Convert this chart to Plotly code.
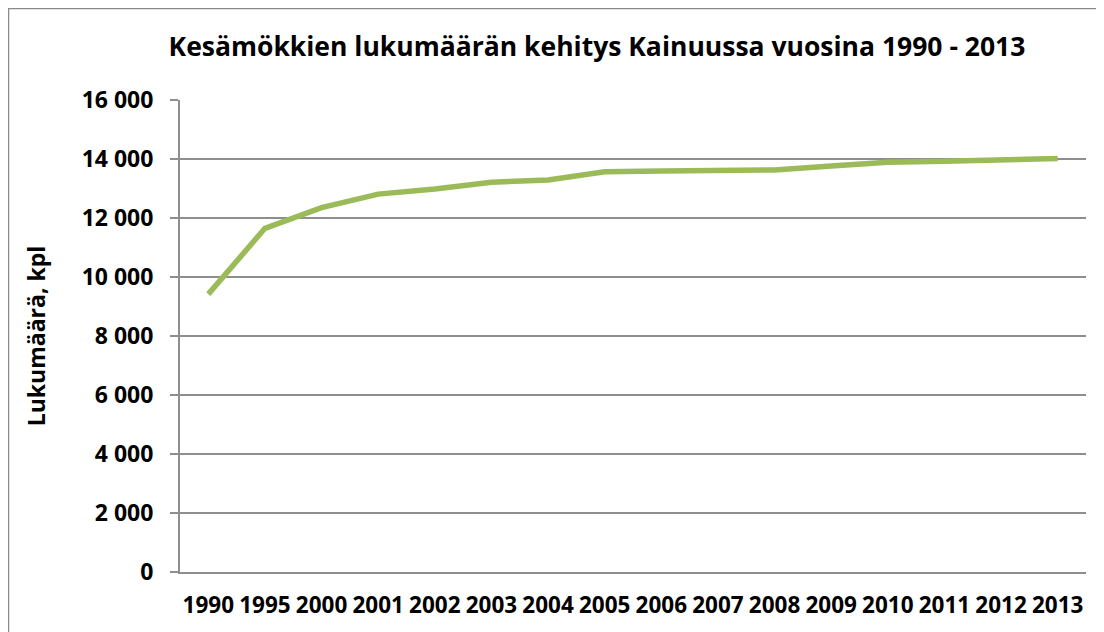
import plotly.graph_objects as go

years = ["1990", "1995", "2000", "2001", "2002", "2003", "2004", "2005",
         "2006", "2007", "2008", "2009", "2010", "2011", "2012", "2013"]
cottages = [9420, 11650, 12350, 12810, 12980, 13210, 13290, 13570,
            13590, 13620, 13630, 13760, 13890, 13920, 13970, 14020]
y_ticks = [0, 2000, 4000, 6000, 8000, 10000, 12000, 14000, 16000]
y_tick_labels = ["0", "2 000", "4 000", "6 000", "8 000", "10 000", "12 000", "14 000", "16 000"]

title_text = "Kesämökkien lukumäärän kehitys Kainuussa vuosina 1990 - 2013"
y_title = "Lukumäärä, kpl"

FONT = "Open Sans"
GRID = "#8e8e8e"

fig = go.Figure()
fig.add_trace(go.Scatter(
    x=years, y=cottages, mode="lines",
    line=dict(color="#9BBB59", width=5.5),
    hoverinfo="x+y", showlegend=False,
))

# page has an 8px body margin, so the figure is sized to fit the window
OFF = 8
W, H = 1104 - OFF, 632 - OFF
L, R, T, B = 180 - OFF, 18, 100 - OFF, H - (572 - OFF)
pw, ph = W - L - R, H - T - B

def px_to_paper_x(px):
    return (px - OFF - L) / pw

def px_to_paper_y(py):
    return (H - B - (py - OFF)) / ph

fig.update_layout(
    width=W, height=H,
    margin=dict(l=L, r=R, t=T, b=B),
    paper_bgcolor="white", plot_bgcolor="white",
    font=dict(family=FONT, color="black"),
    title=dict(text="<b>" + title_text + "</b>", x=(597 - OFF) / W, xref="container", xanchor="center",
               y=1 - (47 - OFF) / H, yref="container", yanchor="middle",
               font=dict(size=26.5, family=FONT, color="black")),
    xaxis=dict(type="category", showgrid=False, showline=True, linecolor=GRID, linewidth=2,
               ticks="", tickangle=0, tickfont=dict(size=22.5, family=FONT, color="black", weight="bold"),
               ticklabelstandoff=12, range=[-0.5, 15.5], fixedrange=True),
    yaxis=dict(range=[0, 16000], tickvals=y_ticks, ticktext=y_tick_labels,
               showgrid=True, gridcolor=GRID, gridwidth=1.6, zeroline=False,
               showline=True, linecolor=GRID, linewidth=2,
               ticks="outside", ticklen=8, tickcolor=GRID, tickwidth=1.6,
               tickfont=dict(size=23, family=FONT, color="black", weight="bold"),
               ticklabelstandoff=12,
               title=dict(text="<b>" + y_title + "</b>", font=dict(size=23, family=FONT, color="black"),
                          standoff=30),
               fixedrange=True),
)

fig.add_shape(type="rect", xref="paper", yref="paper",
              x0=px_to_paper_x(8.5), x1=px_to_paper_x(1120),
              y0=px_to_paper_y(650), y1=px_to_paper_y(8.5),
              line=dict(color="#8a8a8a", width=1.5), fillcolor="rgba(0,0,0,0)", layer="below")

fig.write_html("out.html")
